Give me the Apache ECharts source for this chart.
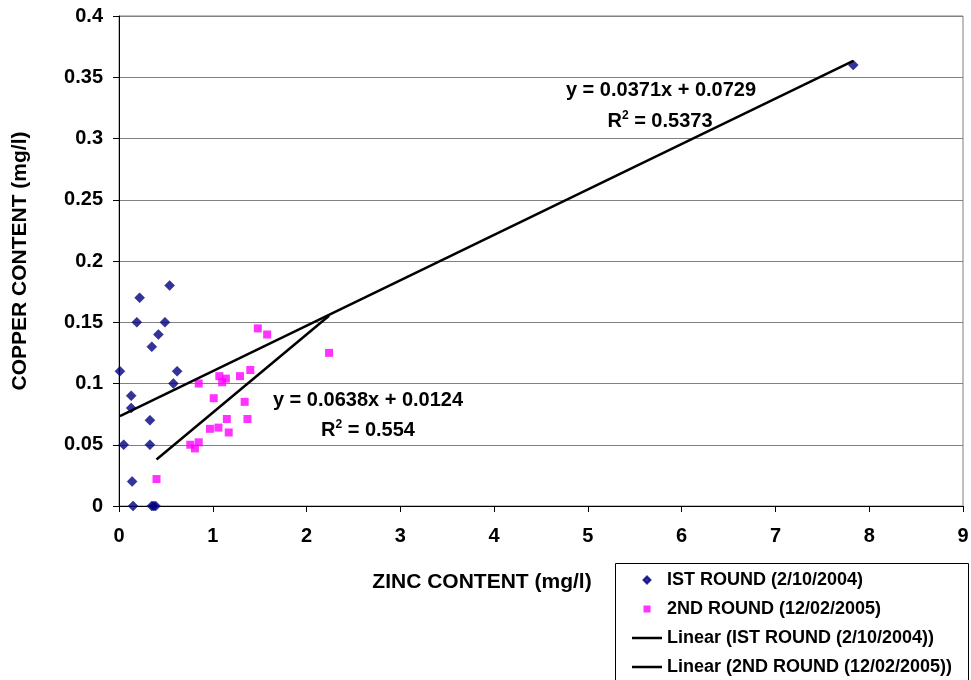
<!DOCTYPE html>
<html>
<head>
<meta charset="utf-8">
<title>Copper vs Zinc content</title>
<script src="https://cdn.jsdelivr.net/npm/echarts@6/dist/echarts.min.js"></script>
<style>
  html, body { margin: 0; padding: 0; background: #fff; }
  #chart { width: 971px; height: 680px; }
</style>
</head>
<body>
<div id="chart"></div>
<script>
// Sampling rounds (series names)
const roundNames = ['IST ROUND (2/10/2004)', '2ND ROUND (12/02/2005)'];

// 1st round: zinc (mg/l) and copper (mg/l)
const zinc1 = [0.01, 0.05, 0.13, 0.13, 0.14, 0.15, 0.19, 0.22, 0.33, 0.33, 0.35, 0.35, 0.37, 0.39, 0.42, 0.49, 0.54, 0.58, 0.62, 7.83];
const copper1 = [0.11, 0.05, 0.09, 0.08, 0.02, 0, 0.15, 0.17, 0.07, 0.05, 0.13, 0, 0, 0, 0.14, 0.15, 0.18, 0.10, 0.11, 0.36];

// 2nd round: zinc (mg/l) and copper (mg/l)
const zinc2 = [0.40, 0.76, 0.81, 0.85, 0.85, 0.97, 1.01, 1.06, 1.07, 1.10, 1.14, 1.15, 1.17, 1.29, 1.34, 1.37, 1.40, 1.48, 1.58, 2.24];
const copper2 = [0.022, 0.050, 0.047, 0.052, 0.100, 0.063, 0.088, 0.064, 0.106, 0.101, 0.104, 0.071, 0.060, 0.106, 0.085, 0.071, 0.111, 0.145, 0.140, 0.125];

// Linear trend fits for each round
const trendSlope = [0.0371, 0.0638];
const trendIntercept = [0.0729, 0.0124];
const trendR2 = ['0.5373', '0.554'];

const FONT = '"Liberation Sans", Arial, Helvetica, sans-serif';

// Legend icons: the leading moves pad the bounding box to the full 30x7 item,
// so the marker keeps its shape in the middle of the slot.
const ICON_DIAMOND = 'path://M0,0M30,7M15,0L18.5,3.5L15,7L11.5,3.5Z';
const ICON_SQUARE = 'path://M0,0M30,7M11.5,0H18.5V7H11.5Z';
const ICON_LINE = 'path://M0,2.25H30V4.75H0Z';

function pairs(xs, ys) { return xs.map((x, i) => [x, ys[i]]); }
function trendLine(xs, k) {
  const lo = Math.min(...xs), hi = Math.max(...xs);
  return [[lo, trendSlope[k] * lo + trendIntercept[k]], [hi, trendSlope[k] * hi + trendIntercept[k]]];
}
function eqText(k) {
  const sign = trendIntercept[k] >= 0 ? '+' : '-';
  return 'y = ' + trendSlope[k].toFixed(4) + 'x ' + sign + ' ' + Math.abs(trendIntercept[k]).toFixed(4);
}

const chart = echarts.init(document.getElementById('chart'), null, { renderer: 'canvas' });

const eqStyle = { fontFamily: FONT, fontWeight: 'bold', fontSize: 20, fill: '#000' };
const r2Rich = {
  b: { fontFamily: FONT, fontWeight: 'bold', fontSize: 20, color: '#000' },
  s: { fontFamily: FONT, fontWeight: 'bold', fontSize: 12, color: '#000', padding: [0, 0, 10, 0] }
};

const option = {
  animation: false,
  backgroundColor: '#fff',
  grid: {
    left: 119, right: 8, top: 16, bottom: 174,
    outerBoundsMode: 'none', containLabel: false,
    show: true, borderColor: '#808080', borderWidth: 1, backgroundColor: '#fff'
  },
  xAxis: {
    type: 'value', min: 0, max: 9, interval: 1,
    axisLine: { show: true, onZero: false, lineStyle: { color: '#000', width: 1 } },
    axisTick: { show: true, inside: false, length: 6, lineStyle: { color: '#000' } },
    axisLabel: { margin: 20, color: '#000', fontFamily: FONT, fontWeight: 'bold', fontSize: 20 },
    splitLine: { show: false }
  },
  yAxis: {
    type: 'value', min: 0, max: 0.4, interval: 0.05,
    name: 'COPPER CONTENT (mg/l)',
    nameLocation: 'middle', nameRotate: 90, nameGap: 88,
    nameTextStyle: { color: '#000', fontFamily: FONT, fontWeight: 'bold', fontSize: 21 },
    axisLine: { show: true, onZero: false, lineStyle: { color: '#000', width: 1 } },
    axisTick: { show: true, inside: false, length: 6, lineStyle: { color: '#000' } },
    axisLabel: { margin: 16, color: '#000', fontFamily: FONT, fontWeight: 'bold', fontSize: 20 },
    splitLine: { show: true, lineStyle: { color: '#808080', width: 1 } }
  },
  legend: {
    orient: 'vertical', left: 631, top: 571, padding: 0,
    itemWidth: 30, itemHeight: 7, itemGap: 11, z: 10,
    textStyle: { color: '#000', fontFamily: FONT, fontWeight: 'bold', fontSize: 18 },
    data: [
      { name: roundNames[0], icon: ICON_DIAMOND },
      { name: roundNames[1], icon: ICON_SQUARE },
      { name: 'Linear (' + roundNames[0] + ')', icon: ICON_LINE },
      { name: 'Linear (' + roundNames[1] + ')', icon: ICON_LINE }
    ]
  },
  graphic: [
    { type: 'rect', z: 1, shape: { x: 615.5, y: 563.5, width: 353, height: 140 },
      style: { fill: '#fff', stroke: '#000', lineWidth: 1 } },
    { type: 'text', z: 5, x: 482, y: 582,
      style: { text: 'ZINC CONTENT (mg/l)', align: 'center', verticalAlign: 'middle',
               fontFamily: FONT, fontWeight: 'bold', fontSize: 21, fill: '#000' } },
    { type: 'text', z: 5, x: 661, y: 90,
      style: Object.assign({ text: eqText(0), align: 'center', verticalAlign: 'middle' }, eqStyle) },
    { type: 'text', z: 5, x: 660, y: 121,
      style: { text: '{b|R}{s|2}{b| = ' + trendR2[0] + '}', align: 'center', verticalAlign: 'middle', rich: r2Rich } },
    { type: 'text', z: 5, x: 368, y: 400,
      style: Object.assign({ text: eqText(1), align: 'center', verticalAlign: 'middle' }, eqStyle) },
    { type: 'text', z: 5, x: 368, y: 430,
      style: { text: '{b|R}{s|2}{b| = ' + trendR2[1] + '}', align: 'center', verticalAlign: 'middle', rich: r2Rich } }
  ],
  series: [
    {
      name: roundNames[0], type: 'scatter', symbol: 'diamond', symbolSize: 10,
      itemStyle: { color: '#000080', borderColor: '#000080', borderWidth: 0.5 }, z: 3,
      data: pairs(zinc1, copper1)
    },
    {
      name: roundNames[1], type: 'scatter', symbol: 'rect', symbolSize: 8,
      itemStyle: { color: '#FF00FF' }, z: 3,
      data: pairs(zinc2, copper2)
    },
    {
      name: 'Linear (' + roundNames[0] + ')', type: 'line', symbol: 'none', z: 4,
      lineStyle: { color: '#000', width: 2.5 }, itemStyle: { color: '#000' },
      data: trendLine(zinc1, 0)
    },
    {
      name: 'Linear (' + roundNames[1] + ')', type: 'line', symbol: 'none', z: 4,
      lineStyle: { color: '#000', width: 2.5 }, itemStyle: { color: '#000' },
      data: trendLine(zinc2, 1)
    }
  ]
};

chart.setOption(option);
</script>
</body>
</html>
